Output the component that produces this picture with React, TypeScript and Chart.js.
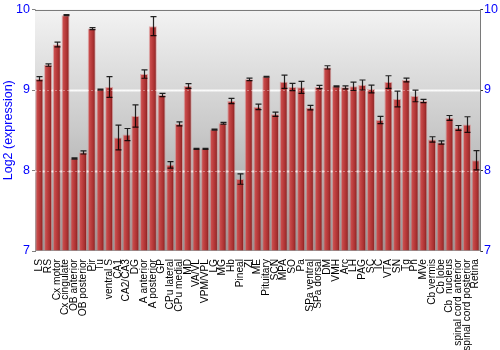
import { useEffect, useRef } from "react";
import { Chart, registerables } from "chart.js";

Chart.register(...registerables);

const regions = [
  "LS", "RS", "Cx motor", "Cx cingulate", "OB anterior", "OB posterior", "Pir", "Tu",
  "ventral S", "CA1", "CA2/CA3", "DG", "A anterior", "A posterior", "GP", "CPu lateral",
  "CPu medial", "MD", "VA/VL", "VPM/VPL", "LG", "MG", "Hb", "Pineal", "ZI", "ME",
  "Pituitary", "SCN", "MPA", "SO", "Pa", "SPa ventral", "SPa dorsal", "DM", "VMH", "Arc",
  "LH", "PAG", "SC", "IC", "VTA", "SN", "Tg", "Pn", "MVe", "Cb vermis", "Cb lobe",
  "Cb  nucleus", "spinal cord anterior", "spinal cord posterior", "Retina",
];

const expression = [
  9.14, 9.31, 9.565, 9.93, 8.15, 8.225, 9.763, 9.005,
  9.037, 8.41, 8.446, 8.678, 9.198, 9.793, 8.938, 8.07,
  8.579, 9.05, 8.269, 8.269, 8.508, 8.587, 8.864, 7.893, 9.132, 8.79,
  9.165, 8.699, 9.103, 9.037, 9.033, 8.781, 9.037, 9.281, 9.046, 9.033,
  9.046, 9.062, 9.012, 8.628, 9.099, 8.888, 9.124, 8.926, 8.864, 8.386, 8.347,
  8.653, 8.529, 8.571, 8.128,
];

const errors = [
  0.025, 0.015, 0.03, 0.006, 0.008, 0.02, 0.012, 0.006,
  0.128, 0.153, 0.076, 0.138, 0.052, 0.118, 0.02, 0.04,
  0.025, 0.03, 0.006, 0.006, 0.006, 0.012, 0.033, 0.064, 0.015, 0.035,
  0.006, 0.027, 0.083, 0.045, 0.074, 0.027, 0.02, 0.02, 0.006, 0.018,
  0.052, 0.062, 0.048, 0.045, 0.078, 0.097, 0.023, 0.072, 0.02, 0.033, 0.02,
  0.03, 0.03, 0.097, 0.12,
];

const yMin = 7;
const yMax = 10;

const FONT = "'Liberation Sans', Arial, sans-serif";
const BAR_FRACTION = 0.92;

const backgroundPlugin = {
  id: "bgPlugin",
  beforeDatasetsDraw(chart: any) {
    const { ctx, chartArea } = chart;
    const { left, right, top, bottom } = chartArea;
    ctx.save();
    const g = ctx.createLinearGradient(0, top, 0, bottom);
    g.addColorStop(0, "#f3f3f3");
    g.addColorStop(0.5, "#c9c9c9");
    g.addColorStop(1, "#969696");
    ctx.fillStyle = g;
    ctx.fillRect(left, top, right - left, bottom - top);
    const y = chart.scales.y;
    ctx.strokeStyle = "rgba(255,255,255,0.85)";
    ctx.lineWidth = 2;
    [8, 9].forEach((v) => {
      const py = Math.round(y.getPixelForValue(v)) + 0.5;
      ctx.beginPath();
      ctx.moveTo(left, py);
      ctx.lineTo(right, py);
      ctx.stroke();
    });
    ctx.restore();
  },
  afterDatasetsDraw(chart: any) {
    const { ctx, chartArea } = chart;
    const { left, right, top } = chartArea;
    const y = chart.scales.y;
    const meta = chart.getDatasetMeta(0);
    ctx.save();
    ctx.strokeStyle = "rgba(255,255,255,0.35)";
    ctx.lineWidth = 1;
    ctx.setLineDash([2, 2]);
    [8, 9].forEach((v) => {
      const py = Math.round(y.getPixelForValue(v)) + 0.5;
      ctx.beginPath();
      ctx.moveTo(left, py);
      ctx.lineTo(right, py);
      ctx.stroke();
    });
    ctx.setLineDash([]);
    ctx.strokeStyle = "rgba(0,0,0,0.85)";
    ctx.lineWidth = 1.2;
    meta.data.forEach((bar: any, i: number) => {
      const v = expression[i];
      const e = errors[i];
      const x = Math.round(bar.x) + 0.5;
      const yt = y.getPixelForValue(v + e);
      const yb = y.getPixelForValue(v - e);
      ctx.beginPath();
      ctx.moveTo(x, yt);
      ctx.lineTo(x, yb);
      ctx.moveTo(x - 3, yt);
      ctx.lineTo(x + 3, yt);
      ctx.moveTo(x - 3, yb);
      ctx.lineTo(x + 3, yb);
      ctx.stroke();
    });
    ctx.strokeStyle = "#7a7a7a";
    ctx.lineWidth = 1;
    ctx.beginPath();
    ctx.moveTo(left, Math.round(top) + 0.5);
    ctx.lineTo(right, Math.round(top) + 0.5);
    ctx.stroke();
    ctx.restore();
  },
};

export default function App() {
  const ref = useRef<HTMLCanvasElement | null>(null);

  useEffect(() => {
    if (!ref.current) return;
    const chart = new Chart(ref.current, {
      type: "bar",
      data: {
        labels: regions,
        datasets: [
          {
            data: expression,
            base: yMin,
            backgroundColor: (c: any) => {
              const ch = c.chart;
              const xs = ch.scales && ch.scales.x;
              if (!xs || c.type !== "data" || !ch.chartArea) return "#b53838";
              const cx = xs.getPixelForValue(c.dataIndex);
              const w = (xs.width / regions.length) * BAR_FRACTION;
              const g = ch.ctx.createLinearGradient(cx - w / 2, 0, cx + w / 2, 0);
              g.addColorStop(0, "#cf5a5a");
              g.addColorStop(0.3, "#c44545");
              g.addColorStop(0.7, "#a83030");
              g.addColorStop(1, "#761818");
              return g;
            },
            borderColor: "rgba(215,120,120,0.55)",
            borderWidth: 1,
            categoryPercentage: 1,
            barPercentage: BAR_FRACTION,
          } as any,
        ],
      },
      options: {
        responsive: false,
        animation: false,
        devicePixelRatio: 1,
        layout: { padding: { top: 9, left: 0, right: 0, bottom: 0 } },
        plugins: {
          legend: { display: false },
          tooltip: { enabled: false },
          title: { display: false },
        },
        scales: {
          x: {
            type: "category",
            grid: { display: false },
            border: { display: false },
            ticks: {
              autoSkip: false,
              minRotation: 90,
              maxRotation: 90,
              padding: 0,
              color: "#000000",
              font: { family: FONT, size: 10.2 },
            },
            afterFit: (s: any) => {
              s.height = 99;
            },
          },
          y: {
            position: "left",
            min: yMin,
            max: yMax,
            ticks: {
              stepSize: 1,
              color: "#0000ff",
              padding: 2,
              font: { family: FONT, size: 12.5 },
            },
            grid: {
              drawOnChartArea: false,
              tickLength: 3,
              color: "#808080",
            },
            border: { color: "#7a7a7a" },
            title: {
              display: true,
              text: "Log2 (expression)",
              color: "#0000ff",
              font: { family: FONT, size: 12.5 },
              padding: { top: 1, bottom: 0 },
            },
            afterFit: (s: any) => {
              s.width = 35;
            },
          },
          y2: {
            position: "right",
            min: yMin,
            max: yMax,
            ticks: {
              stepSize: 1,
              color: "#0000ff",
              padding: 1,
              font: { family: FONT, size: 12.5 },
            },
            grid: {
              drawOnChartArea: false,
              tickLength: 3,
              color: "#333333",
            },
            border: { color: "#7a7a7a" },
            afterFit: (s: any) => {
              s.width = 20;
            },
          },
        },
      },
      plugins: [backgroundPlugin],
    });
    return () => chart.destroy();
  }, []);

  return (
    <div style={{ position: "absolute", left: 0, top: 0, width: 500, height: 350, background: "#ffffff" }}>
      <canvas ref={ref} width={500} height={350} style={{ width: 500, height: 350 }} />
    </div>
  );
}
